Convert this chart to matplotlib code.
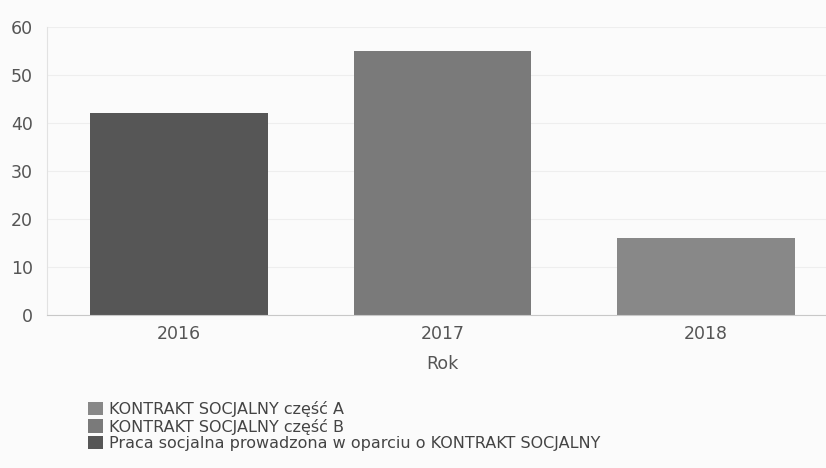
import matplotlib
matplotlib.use("Agg")
import matplotlib.pyplot as plt
import numpy as np

plt.rcParams['font.family'] = ['DejaVu Sans']

years = ["2016", "2017", "2018"]
series_names = ["KONTRAKT SOCJALNY część A",
                "KONTRAKT SOCJALNY część B",
                "Praca socjalna prowadzona w oparciu o KONTRAKT SOCJALNY"]
kontrakt_a = [0, 0, 16]
kontrakt_b = [0, 55, 0]
praca = [42, 0, 0]
colors = ["#888888", "#7a7a7a", "#565656"]
yticks = [0, 10, 20, 30, 40, 50, 60]

fig = plt.figure(figsize=(8.26, 4.68), dpi=100)
fig.patch.set_facecolor("#fbfbfb")
ax = fig.add_axes([47/826, 1-315/468, (838-47)/826, (315-27)/468])
ax.set_facecolor("#fbfbfb")

x = np.arange(len(years))
bottom = np.zeros(len(years))
handles = []
for vals, name, c in zip([kontrakt_a, kontrakt_b, praca], series_names, colors):
    h = ax.bar(x, vals, width=0.675, bottom=bottom, color=c, label=name, zorder=2)
    bottom += np.array(vals)
    handles.append(h)

ax.set_xlim(-0.5, 2.5)
ax.set_ylim(0, 60)
ax.set_yticks(yticks)
ax.set_xticks(x)
ax.set_xticklabels(years)
ax.grid(axis='y', color="#eeeeee", linewidth=0.8, zorder=0)
for s in ["top", "right"]:
    ax.spines[s].set_visible(False)
ax.spines["left"].set_color("#e2e2e2")
ax.spines["bottom"].set_color("#c8c8c8")
ax.tick_params(axis='both', length=0, labelsize=12.5, colors="#555555")
ax.tick_params(axis='y', pad=10)
ax.tick_params(axis='x', pad=7)
ax.set_xlabel("Rok", fontsize=12.5, color="#555555", labelpad=9)

leg = fig.legend(handles=handles, labels=series_names, loc="upper left",
                 bbox_to_anchor=(88/826, 1-401/468), frameon=False,
                 fontsize=11.5, handlelength=0.95, handleheight=0.9,
                 handletextpad=0.35, labelspacing=0.1, borderaxespad=0,
                 borderpad=0)
for t in leg.get_texts():
    t.set_color("#444444")

fig.savefig("out.png", dpi=100, facecolor=fig.get_facecolor())
